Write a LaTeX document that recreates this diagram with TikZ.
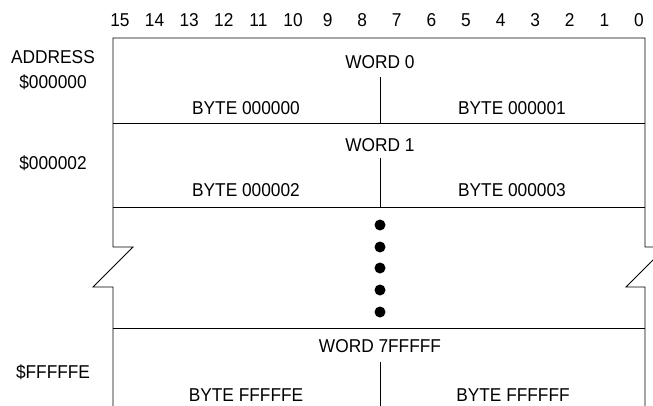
\documentclass[tikz,border=0pt]{standalone}
\usepackage{fontspec}
\setmainfont{Liberation Sans}[FakeStretch=0.93]
\tikzset{
  lbl/.style={inner sep=0pt, text height=13.3pt, text depth=0pt,
    font=\fontsize{18.6}{21}\selectfont},
  frame/.style={line width=0.9pt, line join=miter}
}
\begin{document}
\begin{tikzpicture}[x=1pt, y=-1pt]
        \useasboundingbox (0,0) rectangle (653,406);
        \clip (0,0) rectangle (653,406);
        % bit numbers
        \foreach \b in {0,...,15}{
            \node[lbl] (bit\b) at ({639-34.6*\b},20) {\b};
        }
        % outline with break marks
        \draw[frame] (113,406)--(113,287)--(93,287)--(133,247)--(113,247)--(113,38)--(645,38)--(645,247)--(666,247)--(626,287)--(645,287)--(645,406);
        \foreach \y in {123,207,328}{
            \draw[frame] (113,\y)--(645,\y);
        }
        \draw[frame] (380,77)--(380,123);
        \draw[frame] (380,158)--(380,207);
        \draw[frame] (380,362)--(380,406);
        \foreach \y in {225,247,268,290,312}{
            \fill (380,\y) circle (5.5);
        }
        % addresses
        \node[lbl] (addr) at (53,57) {ADDRESS};
        \node[lbl] (a0) at (53,82) {\$000000};
        \node[lbl] (a2) at (53,163) {\$000002};
        \node[lbl] (aF) at (53,372) {\$FFFFFE};
        % words and bytes
        \node[lbl] (w0) at (380,62) {WORD 0};
        \node[lbl] (b0) at (246,108) {BYTE 000000};
        \node[lbl] (b1) at (512,108) {BYTE 000001};
        \node[lbl] (w1) at (380,145) {WORD 1};
        \node[lbl] (b2) at (246,190) {BYTE 000002};
        \node[lbl] (b3) at (512,190) {BYTE 000003};
        \node[lbl] (wF) at (380,346) {WORD 7FFFFF};
        \node[lbl] (bE) at (246,395) {BYTE FFFFFE};
        \node[lbl] (bF) at (513,395) {BYTE FFFFFF};
\end{tikzpicture}
\end{document}
